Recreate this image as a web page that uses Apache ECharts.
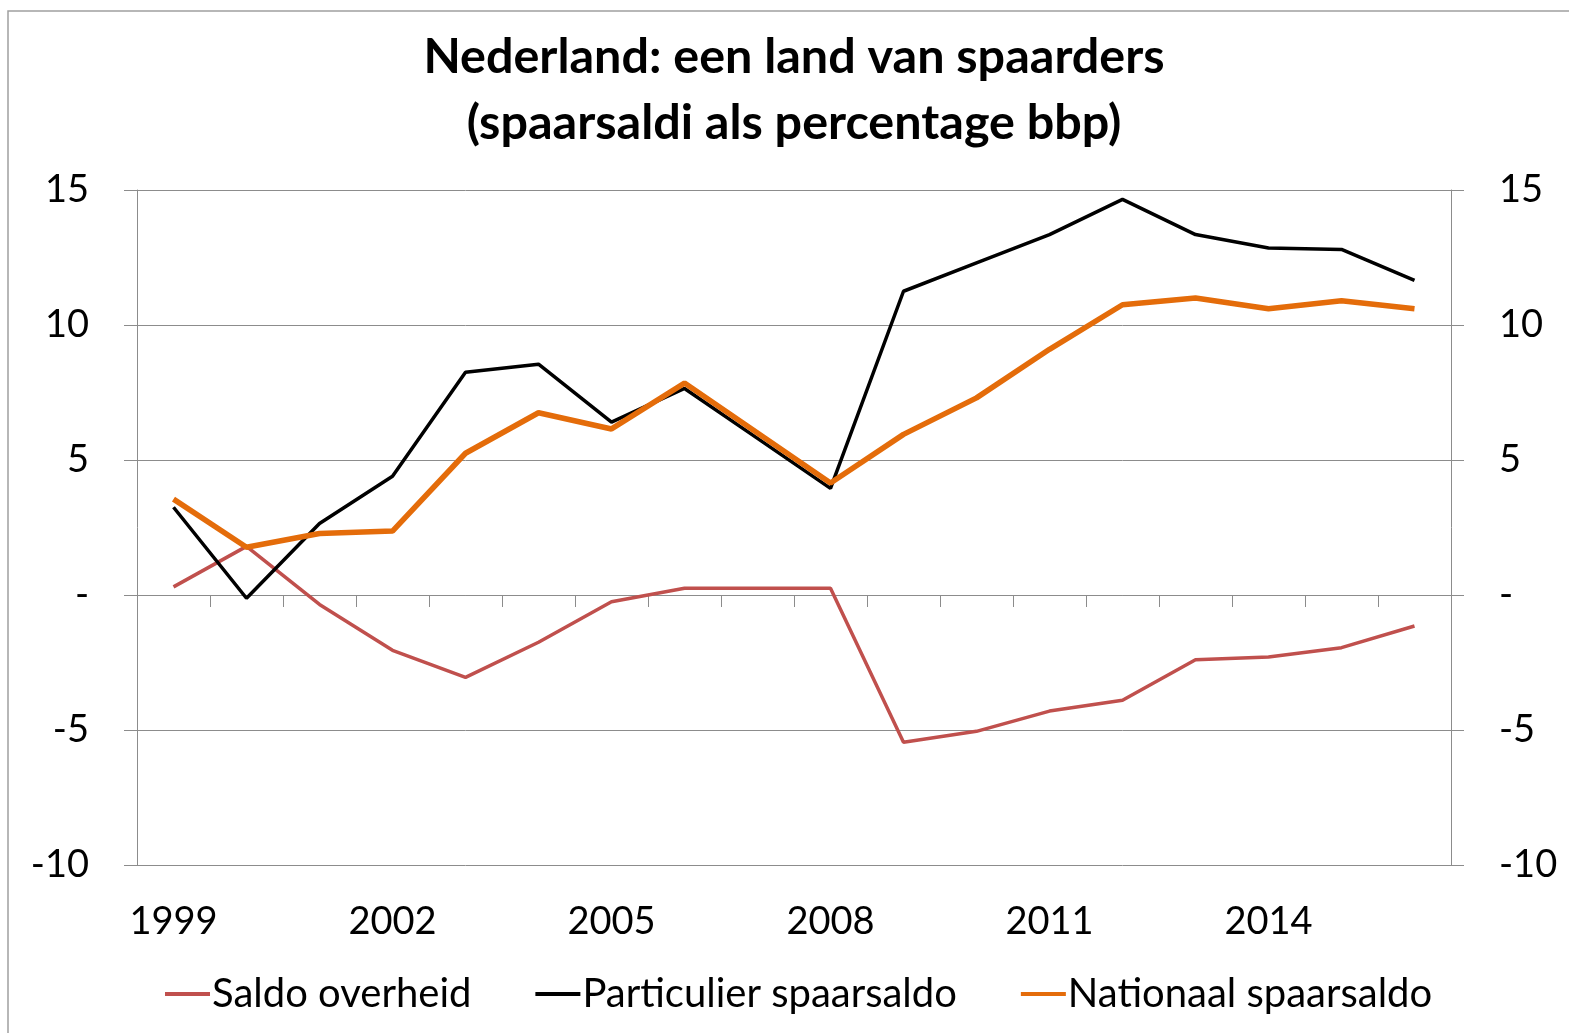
<!DOCTYPE html>
<html>
<head>
<meta charset="utf-8">
<title>Nederland: een land van spaarders</title>
<script src="https://cdn.jsdelivr.net/npm/echarts@6/dist/echarts.min.js"></script>
<style>
  html, body { margin: 0; padding: 0; background: #fff; }
  #chart { width: 1569px; height: 1033px; }
</style>
</head>
<body>
<div id="chart"></div>
<script>
// jaren op de x-as
var years = ['1999', '2000', '2001', '2002', '2003', '2004', '2005', '2006', '2007',
  '2008', '2009', '2010', '2011', '2012', '2013', '2014', '2015', '2016'];

// spaarsaldi als % bbp
var saldoOverheid = [0.3, 1.8, -0.35, -2.05, -3.05, -1.75, -0.25, 0.25, 0.25,
  0.25, -5.45, -5.05, -4.3, -3.9, -2.4, -2.3, -1.95, -1.15];
var particulierSpaarsaldo = [3.25, -0.12, 2.65, 4.4, 8.25, 8.55, 6.4, 7.65, 5.8,
  3.95, 11.25, 12.3, 13.35, 14.65, 13.35, 12.85, 12.8, 11.65];
var nationaalSpaarsaldo = [3.55, 1.77, 2.28, 2.37, 5.25, 6.75, 6.15, 7.85, 6.0,
  4.15, 5.95, 7.3, 9.1, 10.75, 11.0, 10.6, 10.9, 10.6];

var seriesNames = ['Saldo overheid', 'Particulier spaarsaldo', 'Nationaal spaarsaldo'];

var FONT = 'Lato';
var GRID_COLOR = '#8c8c8c';

// 0 wordt als '-' getoond (Excel boekhoudnotatie)
function yLabel(v) {
  return v === 0 ? '-' : String(v);
}

var chartDom = document.getElementById('chart');
var myChart = echarts.init(chartDom);

var valueAxis = function (pos) {
  return {
    type: 'value',
    position: pos,
    min: -10,
    max: 15,
    interval: 5,
    axisLine: { show: true, lineStyle: { color: GRID_COLOR, width: 1 } },
    axisTick: { show: true, length: 13, lineStyle: { color: GRID_COLOR } },
    splitLine: { show: pos === 'left', lineStyle: { color: GRID_COLOR, width: 1 } },
    axisLabel: {
      formatter: yLabel,
      margin: 48,
      color: '#000',
      fontFamily: FONT,
      fontSize: 38
    }
  };
};

var option = {
  animation: false,
  backgroundColor: '#fff',
  textStyle: { fontFamily: FONT },
  title: {
    text: 'Nederland: een land van spaarders\n(spaarsaldi als percentage bbp)',
    left: 794,
    top: 24,
    padding: 0,
    textAlign: 'center',
    textStyle: {
      fontFamily: FONT,
      fontSize: 48.5,
      fontWeight: 'bold',
      color: '#000',
      lineHeight: 66
    }
  },
  graphic: [
    {
      type: 'rect',
      shape: { x: 8, y: 11, width: 1600, height: 1100 },
      style: { fill: 'none', stroke: '#a0a0a0', lineWidth: 1.5 },
      silent: true
    }
  ],
  legend: {
    data: seriesNames,
    bottom: 14,
    left: 160,
    icon: 'rect',
    itemGap: 64,
    itemWidth: 45,
    itemHeight: 4,
    textStyle: { fontFamily: FONT, fontSize: 40, color: '#000', padding: [0, 0, 0, -3] }
  },
  grid: {
    left: 137,
    right: 118,
    top: 190,
    bottom: 168,
    containLabel: false
  },
  xAxis: [
    {
      type: 'category',
      data: years,
      position: 'bottom',
      boundaryGap: true,
      axisLine: { show: false, onZero: false },
      axisTick: { show: false },
      axisLabel: {
        interval: 2,
        margin: 38,
        color: '#000',
        fontFamily: FONT,
        fontSize: 38
      }
    },
    {
      // as door nul met maatstreepjes tussen de jaren
      type: 'category',
      data: years,
      position: 'bottom',
      boundaryGap: true,
      axisLine: { show: true, onZero: true, lineStyle: { color: GRID_COLOR, width: 1 } },
      axisTick: { show: true, length: 12, lineStyle: { color: GRID_COLOR } },
      axisLabel: { show: false }
    }
  ],
  yAxis: [valueAxis('left'), valueAxis('right')],
  series: [
    {
      name: seriesNames[0],
      type: 'line',
      data: saldoOverheid,
      symbol: 'none',
      color: '#C0504D',
      lineStyle: { color: '#C0504D', width: 3.5 },
      z: 2
    },
    {
      name: seriesNames[1],
      type: 'line',
      data: particulierSpaarsaldo,
      symbol: 'none',
      color: '#000000',
      lineStyle: { color: '#000000', width: 3.5 },
      z: 3
    },
    {
      name: seriesNames[2],
      type: 'line',
      data: nationaalSpaarsaldo,
      symbol: 'none',
      color: '#E46C0A',
      lineStyle: { color: '#E46C0A', width: 5.5 },
      z: 4
    }
  ]
};

myChart.setOption(option);
</script>
</body>
</html>
